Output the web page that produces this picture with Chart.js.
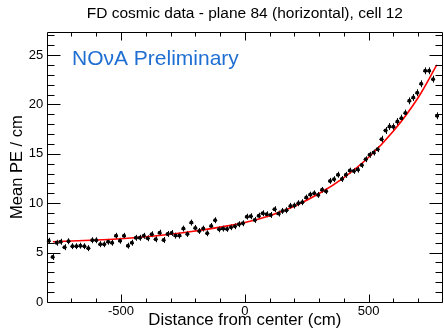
<!DOCTYPE html>
<html><head><meta charset="utf-8">
<style>
html,body{margin:0;padding:0;overflow:hidden;background:#fff;width:444px;height:329px}
#wrap{position:relative;width:447px;height:329px}
</style>
<script src="https://cdn.jsdelivr.net/npm/chart.js@4.4.1/dist/chart.umd.min.js"></script>
</head><body><div id="wrap"><canvas id="c"></canvas></div>
<script>
// ---- data ----
const distances = [-792,-776,-760,-744,-728,-712,-696,-680,-664,-648,-632,-616,-600,-584,-568,-552,-536,-520,-504,-488,
 -472,-456,-440,-424,-408,-392,-376,-360,-344,-328,-312,-296,-280,-264,-248,-232,-216,-200,-184,-168,
 -152,-136,-120,-104,-88,-72,-56,-40,-24,-8,8,24,40,56,72,88,104,120,136,152,
 168,184,200,216,232,248,264,280,296,312,328,344,360,376,392,408,424,440,456,472,
 488,504,520,536,552,568,584,600,616,632,648,664,680,696,712,728,744,760,776];
const meanPE = [6.2,4.55,6.0,6.1,5.55,6.15,5.65,5.65,5.7,5.65,5.45,6.25,6.25,5.85,5.85,6.1,6.0,6.7,6.2,6.7,
 5.7,6.0,6.5,6.5,6.7,6.45,6.86,6.35,7.02,6.28,6.89,6.99,6.72,6.72,7.43,6.89,8.04,7.5,7.19,7.43,
 6.96,7.7,8.28,7.36,7.43,7.4,7.57,7.67,7.87,7.97,8.64,8.68,8.31,8.74,8.98,8.88,8.81,9.39,8.95,9.22,
 9.29,9.73,9.76,10.0,10.1,10.57,10.87,11.0,10.84,11.35,11.22,12.26,12.43,12.88,12.45,12.87,13.3,13.27,13.4,13.88,
 14.45,14.9,15.13,15.47,16.48,17.36,17.76,17.73,18.27,18.61,19.12,20.36,20.7,21.18,22.09,23.4,23.4,22.56,18.85];
const peErrors = [0.3,0.3,0.3,0.3,0.3,0.3,0.3,0.3,0.3,0.3,0.3,0.3,0.3,0.3,0.3,0.3,0.3,0.3,0.3,0.3,
 0.3,0.3,0.3,0.3,0.3,0.3,0.3,0.3,0.3,0.3,0.3,0.3,0.3,0.3,0.3,0.3,0.3,0.3,0.3,0.3,
 0.3,0.3,0.3,0.3,0.3,0.3,0.3,0.3,0.3,0.3,0.3,0.3,0.3,0.3,0.3,0.3,0.3,0.3,0.3,0.3,
 0.3,0.3,0.3,0.3,0.3,0.3,0.3,0.3,0.3,0.3,0.3,0.3,0.3,0.3,0.3,0.3,0.3,0.3,0.3,0.3,
 0.3,0.3,0.3,0.3,0.35,0.35,0.35,0.35,0.35,0.35,0.35,0.35,0.35,0.35,0.35,0.35,0.35,0.35,0.35];
const binHalfWidth = 8;
const fitX = [-775,-700,-600,-500,-400,-300,-200,-100,0,100,200,300,400,500,600,700,775];
const fitY = [6.1,6.17,6.27,6.41,6.6,6.85,7.18,7.58,8.05,8.74,9.7,10.98,12.6,14.65,17.3,20.7,24.0];
const xMajorTicks = [-500,0,500];
const xMinorTicks = [-700,-600,-400,-300,-200,-100,100,200,300,400,600,700];
const yMajorTicks = [0,5,10,15,20,25];
const yMinorTicks = [1,2,3,4,6,7,8,9,11,12,13,14,16,17,18,19,21,22,23,24,26,27];
const titleText = 'FD cosmic data - plane 84 (horizontal), cell 12';
const xTitle = 'Distance from center (cm)';
const yTitle = 'Mean PE / cm';
const labelText = 'NO\u03BDA Preliminary';

const FONT = "'Liberation Sans', Arial, Helvetica, sans-serif";

const framePlugin = {
  id: 'frame',
  beforeDatasetsDraw(chart) {
    const {ctx, chartArea: a, scales: {x, y}} = chart;
    ctx.save();
    ctx.beginPath(); ctx.rect(a.left, a.top, a.right - a.left, a.bottom - a.top); ctx.clip();
    ctx.strokeStyle = '#000'; ctx.lineWidth = 1;
    ctx.beginPath();
    distances.forEach((d, i) => {
      const px = x.getPixelForValue(d), py = y.getPixelForValue(meanPE[i]);
      const e0 = y.getPixelForValue(meanPE[i] - peErrors[i]), e1 = y.getPixelForValue(meanPE[i] + peErrors[i]);
      ctx.moveTo(Math.round(px) + 0.5, e0); ctx.lineTo(Math.round(px) + 0.5, e1);
      ctx.moveTo(x.getPixelForValue(d - binHalfWidth), Math.round(py) + 0.5);
      ctx.lineTo(x.getPixelForValue(d + binHalfWidth), Math.round(py) + 0.5);
    });
    ctx.stroke();
    ctx.restore();
  },
  afterDraw(chart) {
    const {ctx, chartArea: a, scales: {x, y}} = chart;
    ctx.save();
    ctx.strokeStyle = '#000'; ctx.lineWidth = 1;
    const L = Math.round(a.left) + 0.5, R = Math.round(a.right) - 0.5, T = Math.round(a.top) + 0.5, B = Math.round(a.bottom) + 0.5;
    ctx.beginPath();
    ctx.rect(L, T, R - L, B - T);
    const yt = (v, len) => { const p = Math.round(y.getPixelForValue(v)) + 0.5;
      ctx.moveTo(L, p); ctx.lineTo(L + len, p); ctx.moveTo(R, p); ctx.lineTo(R - len, p); };
    const xt = (v, len) => { const p = Math.round(x.getPixelForValue(v)) + 0.5;
      ctx.moveTo(p, B); ctx.lineTo(p, B - len); ctx.moveTo(p, T); ctx.lineTo(p, T + len); };
    yMajorTicks.forEach(v => yt(v, 13)); yMinorTicks.forEach(v => yt(v, 7));
    xMajorTicks.forEach(v => xt(v, 8)); xMinorTicks.forEach(v => xt(v, 4));
    ctx.stroke();
    ctx.fillStyle = '#1f6fd2';
    ctx.font = '21px ' + FONT;
    ctx.textBaseline = 'alphabetic'; ctx.textAlign = 'left';
    ctx.fillText(labelText, 72, 65);
    ctx.restore();
  }
};

new Chart(document.getElementById('c'), {
  type: 'scatter',
  data: {
    datasets: [
      { label: 'fit', data: fitX.map((v, i) => ({x: v, y: fitY[i]})), showLine: true,
        borderColor: '#ff0000', borderWidth: 1.6, pointRadius: 0, cubicInterpolationMode: 'monotone', order: 1 },
      { label: 'data', data: distances.map((v, i) => ({x: v, y: meanPE[i]})),
        backgroundColor: '#000', borderColor: '#000', pointRadius: 2, borderWidth: 0, order: 0 }
    ]
  },
  options: {
    responsive: true, maintainAspectRatio: false, devicePixelRatio: 1, animation: false,
    layout: {padding: {left: 0, right: 0.3, top: 0, bottom: 0}},
    plugins: {legend: {display: false}, tooltip: {enabled: false}},
    scales: {
      x: {type: 'linear', position: 'bottom', min: -800, max: 800,
        afterBuildTicks: s => { s.ticks = xMajorTicks.map(v => ({value: v})); },
        afterFit: s => { s.height = 27; },
        grid: {display: false, drawTicks: false}, border: {display: false},
        ticks: {color: '#000', font: {family: FONT, size: 13}, padding: 2, maxRotation: 0, callback: v => String(v)},
        title: {display: true, text: xTitle, color: '#000', font: {family: FONT, size: 16.8, lineHeight: 1}, padding: {top: 0, bottom: 0.2}}
      },
      x2: {type: 'linear', position: 'top', min: -800, max: 800,
        afterFit: s => { s.height = 32.3; },
        grid: {display: false, drawTicks: false}, border: {display: false},
        ticks: {display: false},
        title: {display: true, text: titleText, color: '#000', font: {family: FONT, size: 15.5, lineHeight: 1.2}, padding: {top: 4.6, bottom: 0}}
      },
      y: {type: 'linear', position: 'left', min: 0, max: 27.3,
        afterBuildTicks: s => { s.ticks = yMajorTicks.map(v => ({value: v})); },
        afterFit: s => { s.width = 46.7; },
        grid: {display: false, drawTicks: false}, border: {display: false},
        ticks: {color: '#000', font: {family: FONT, size: 13}, padding: 3.4, callback: v => String(v)},
        title: {display: true, text: yTitle, color: '#000', font: {family: FONT, size: 16.5, lineHeight: 1.2}, padding: {top: 7.2, bottom: 0}}
      }
    }
  },
  plugins: [framePlugin]
});
</script></body></html>
